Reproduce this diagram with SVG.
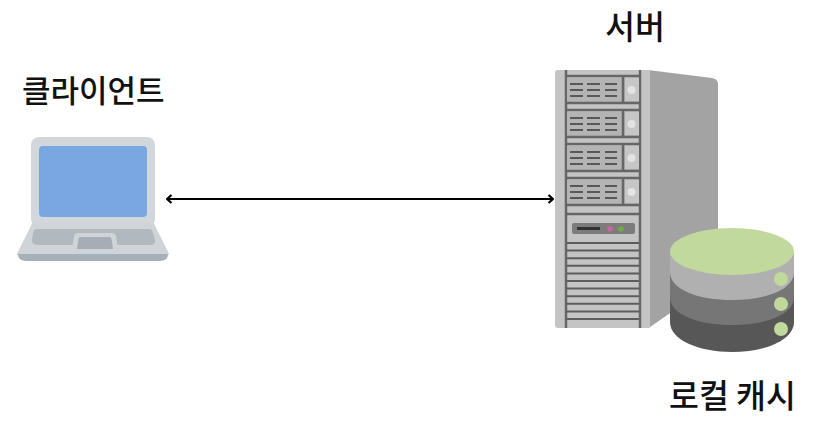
<svg xmlns="http://www.w3.org/2000/svg" width="824" height="438" viewBox="0 0 824 438">
<style>
.t{font-family:"Noto Sans CJK KR",sans-serif;font-size:32px;font-weight:500;fill:#111}
.slat{stroke:#5c5c5c;stroke-width:2;fill:none}
</style>
<defs>
<filter id="soft" x="-5%" y="-5%" width="110%" height="110%"><feGaussianBlur stdDeviation="0.6"/></filter>
<marker id="a" viewBox="0 0 10 10" refX="9" refY="5" markerWidth="10" markerHeight="10" markerUnits="userSpaceOnUse" orient="auto-start-reverse"><path d="M4.500 1L9 5L4.500 9" fill="none" stroke="#000" stroke-width="2.200"/></marker>
<g id="bay">
<rect x="567" y="0" width="72" height="24" fill="#b4b4b4"/>
<path d="M566 -2H640M566 25H640M623 -2V25" stroke="#666" stroke-width="2.500" fill="none"/>
<rect x="625" y="0" width="14" height="23" fill="#c6c6c6"/>
<circle cx="631.500" cy="12" r="4" fill="#e4e4e4"/>
<path d="M570 6H583M587 6H600M605 6H617M570 12H583M587 12H600M605 12H617M570 18H583M587 18H600M605 18H617" stroke="#585858" stroke-width="2.200"/>
</g>
</defs>
<rect width="824" height="438" fill="#fff"/>
<g id="connectors"><line x1="167" y1="199" x2="553" y2="199" stroke="#000" stroke-width="1.800" marker-start="url(#a)" marker-end="url(#a)"/></g>
<g id="client">
<g filter="url(#soft)">
<rect x="31" y="137" width="124" height="90" rx="8" fill="#d1d7da"/>
<rect x="39" y="146" width="108" height="71" rx="4" fill="#7aa7e2"/>
<path d="M33 224H153L168 254H18Z" fill="#ced4d7" stroke="#ced4d7" stroke-width="2" stroke-linejoin="round"/>
<path d="M18 254H168Q168 261 160 261H26Q18 261 18 254Z" fill="#a5b0b8"/>
<path d="M37 229H149Q152 229 153 233L155 240Q156 245 150 245H40Q31 245 32 240L33 233Q34 229 37 229Z" fill="#b1b8be"/>
<path d="M78 233H112Q115 233 116 236L118 250H72L74 236Q75 233 78 233Z" fill="#ced4d7"/>
<path d="M80 237H110Q111 237 111.500 239L113 249H77L78.500 239Q79 237 80 237Z" fill="#a5aeb5"/>
</g>
<text class="t" style="font-size:31px" x="22" y="102">클라이언트</text>
</g>
<g id="server">
<g filter="url(#soft)">
<path d="M648 70L712 78Q718 79 718 84V280L650 327H648Z" fill="#a3a3a3"/>
<path d="M558 70H650V328H558Q555 328 555 325V73Q555 70 558 70Z" fill="#c4c4c4"/>
<path d="M566 70V328M640 70V328" stroke="#666" stroke-width="2.500"/>
<use href="#bay" y="78"/><use href="#bay" y="112"/><use href="#bay" y="146"/><use href="#bay" y="180"/>
<path d="M566 214H640" stroke="#666" stroke-width="2.500"/>
<rect x="572" y="223" width="63" height="11" rx="2" fill="#7b7b7b"/>
<rect x="577" y="227" width="23" height="3" fill="#333"/>
<circle cx="610" cy="229" r="2.800" fill="#c9699b"/>
<circle cx="621" cy="229" r="2.800" fill="#73aa45"/>
<path class="slat" d="M567 243H639M567 250.600H639M567 258.200H639M567 265.800H639M567 273.400H639M567 281H639M567 288.600H639M567 296.200H639M567 303.800H639M567 311.400H639M567 319H639"/>
</g>
<text class="t" style="font-size:32.500px" x="605" y="39">서버</text>
</g>
<g id="cache">
<path d="M670 253H794V322C794 340 765 352 732 352C699 352 670 340 670 322Z" fill="#575757"/>
<path d="M670 253H794V297C794 315 765 325 732 325C699 325 670 315 670 297Z" fill="#767676"/>
<path d="M670 253H794V272C794 290 765 300 732 300C699 300 670 290 670 272Z" fill="#b0b0b0"/>
<ellipse cx="732" cy="251.500" rx="62" ry="23.500" fill="#c1d99c"/>
<circle cx="781" cy="279" r="7" fill="#c1d99c"/><circle cx="781" cy="304" r="7" fill="#c1d99c"/><circle cx="781" cy="329" r="7" fill="#c1d99c"/>
<text class="t" style="font-size:32.500px" x="669" y="408">로컬 캐시</text>
</g>
</svg>
